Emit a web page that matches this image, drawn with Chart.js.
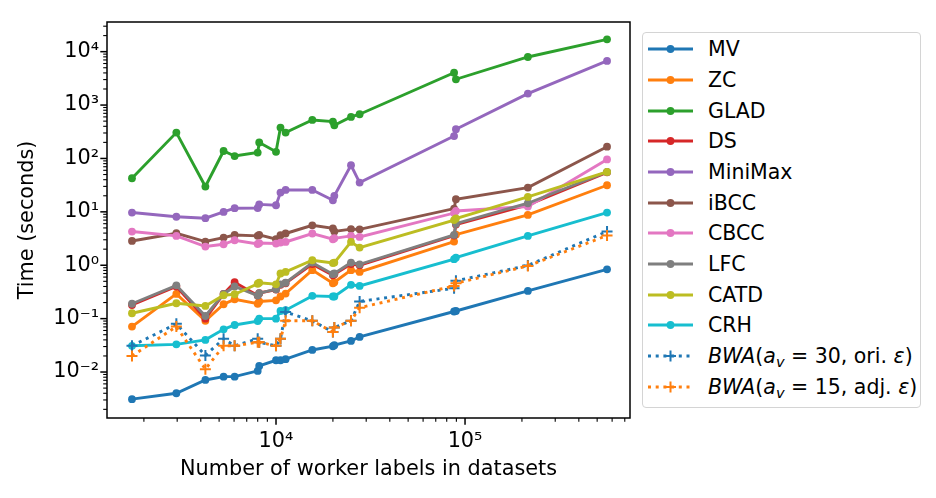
<!DOCTYPE html>
<html>
<head>
<meta charset="utf-8">
<title>Time vs. worker labels</title>
<script src="https://cdn.jsdelivr.net/npm/chart.js@4.4.0/dist/chart.umd.min.js"></script>
<style>
  body { margin: 0; background: #fff; font-family: 'DejaVu Sans', sans-serif; }
  #wrap { position: relative; width: 936px; height: 498px; }
  #legend {
    position: absolute; left: 642px; top: 32px; width: 279px; height: 376px;
    box-sizing: border-box; border: 1px solid #d4d4d4; border-radius: 4px; background: #fff;
  }
  .row { position: absolute; left: 0; height: 30px; width: 275px; display: flex; align-items: center; }
  .row svg { position: absolute; left: 5px; top: 0; }
  .row span { position: absolute; left: 65px; font-size: 20.5px; color: #000; white-space: nowrap; line-height: 30px; }
  .row i { font-style: oblique; }
  .row sub { font-size: 14.5px; vertical-align: -4px; line-height: 0; }
</style>
</head>
<body>
<div id="wrap">
  <canvas id="chart" width="936" height="498"></canvas>
  <div id="legend"></div>
</div>
<script>
// x: number of worker labels per dataset
const xValues = [1730, 2970, 4230, 5280, 6040, 8000, 8150, 10000, 10560, 11240,
                 15560, 20000, 20350, 24930, 27690, 87500, 89500, 215000, 564000];

// running time (seconds) per method
const mv      = [0.0031, 0.0040, 0.0071, 0.0082, 0.0082, 0.0105, 0.013, 0.0166, 0.0166, 0.0174,
                 0.0259, 0.0304, 0.0318, 0.0382, 0.0454, 0.136, 0.139, 0.33, 0.84];
const zc      = [0.071, 0.29, 0.091, 0.186, 0.23, 0.19, 0.21, 0.22, 0.26, 0.295,
                 0.81, 0.46, 0.48, 0.81, 0.75, 2.78, 3.75, 8.75, 31.5];
const glad    = [42.6, 305, 29.8, 138, 111, 129, 199, 133, 379, 305,
                 526, 491, 418, 599, 673, 4050, 3040, 7950, 17000];
const ds      = [0.18, 0.40, 0.10, 0.29, 0.48, 0.27, 0.30, 0.35, 0.43, 0.46,
                 1.05, 0.65, 0.68, 1.05, 1.0, 3.6, 5.8, 13.5, 55];
const minimax = [9.7, 8.1, 7.6, 9.95, 11.7, 11.8, 13.8, 13.3, 23, 25.7,
                 25.7, 16.5, 20, 74.6, 35.4, 263, 352, 1640, 6700];
const ibcc    = [2.85, 3.97, 2.78, 3.3, 3.69, 3.55, 3.7, 3.07, 3.65, 3.93,
                 5.6, 4.9, 4.3, 4.75, 4.7, 11.5, 17.2, 28.5, 166];
const cbcc    = [4.28, 3.54, 2.24, 2.47, 2.94, 2.5, 2.6, 2.55, 2.66, 2.73,
                 3.93, 3.07, 3.2, 3.54, 3.39, 9.5, 10.4, 12.6, 96];
const lfc     = [0.19, 0.42, 0.112, 0.29, 0.40, 0.27, 0.30, 0.355, 0.44, 0.47,
                 1.12, 0.68, 0.70, 1.12, 1.04, 3.7, 6.0, 14.5, 56];
const catd    = [0.126, 0.194, 0.173, 0.274, 0.286, 0.45, 0.47, 0.44, 0.70, 0.75,
                 1.24, 1.1, 1.12, 2.73, 2.14, 7.0, 7.5, 19, 56];
const crh     = [0.031, 0.033, 0.040, 0.063, 0.076, 0.09, 0.1, 0.10, 0.139, 0.144,
                 0.267, 0.26, 0.26, 0.43, 0.41, 1.3, 1.39, 3.54, 9.7];
const bwa30   = [0.031, 0.080, 0.0205, 0.042, 0.031, 0.042, 0.036, 0.031, 0.042, 0.133,
                 0.091, 0.056, 0.068, 0.091, 0.21, 0.37, 0.51, 0.99, 4.3];
const bwa15   = [0.020, 0.071, 0.0113, 0.031, 0.031, 0.036, 0.036, 0.031, 0.042, 0.091,
                 0.091, 0.056, 0.068, 0.091, 0.16, 0.41, 0.46, 0.97, 3.6];

const xMajor = [1e4, 1e5];
const yMajor = [1e-2, 1e-1, 1e0, 1e1, 1e2, 1e3, 1e4];

const series = [
  { name: 'MV',      html: 'MV',      data: mv,      color: '#1f77b4' },
  { name: 'ZC',      html: 'ZC',      data: zc,      color: '#ff7f0e' },
  { name: 'GLAD',    html: 'GLAD',    data: glad,    color: '#2ca02c' },
  { name: 'DS',      html: 'DS',      data: ds,      color: '#d62728' },
  { name: 'MiniMax', html: 'MiniMax', data: minimax, color: '#9467bd' },
  { name: 'iBCC',    html: 'iBCC',    data: ibcc,    color: '#8c564b' },
  { name: 'CBCC',    html: 'CBCC',    data: cbcc,    color: '#e377c2' },
  { name: 'LFC',     html: 'LFC',     data: lfc,     color: '#7f7f7f' },
  { name: 'CATD',    html: 'CATD',    data: catd,    color: '#bcbd22' },
  { name: 'CRH',     html: 'CRH',     data: crh,     color: '#17becf' },
  { name: 'BWA(a_v = 30, ori. ε)', html: '<i>BWA</i>(<i>a<sub>v</sub></i> = 30, ori. <i>ε</i>)', data: bwa30, color: '#1f77b4', bwa: true },
  { name: 'BWA(a_v = 15, adj. ε)', html: '<i>BWA</i>(<i>a<sub>v</sub></i> = 15, adj. <i>ε</i>)', data: bwa15, color: '#ff7f0e', bwa: true }
];

// minor ticks at 2..9 x 10^n, like matplotlib
function logTicks(lo, hi) {
  const out = [];
  for (let e = Math.floor(Math.log10(lo)); e <= Math.ceil(Math.log10(hi)); e++) {
    for (let m = 1; m < 10; m++) {
      const v = m * Math.pow(10, e);
      if (v >= lo && v <= hi) out.push(v);
    }
  }
  return out;
}

const SUP = { '-': '\u207B', '0': '\u2070', '1': '\u00B9', '2': '\u00B2', '3': '\u00B3',
              '4': '\u2074', '5': '\u2075', '6': '\u2076', '7': '\u2077', '8': '\u2078', '9': '\u2079' };
function powLabel(v, majors) {
  if (!majors.some(m => Math.abs(m - v) / m < 1e-9)) return '';
  const e = Math.round(Math.log10(v));
  return '10' + String(e).split('').map(c => SUP[c]).join('');
}
const isMajor = v => Math.abs(Math.log10(v) - Math.round(Math.log10(v))) < 1e-9;

const X_MIN = 1276, X_MAX = 746000, Y_MIN = 0.001377, Y_MAX = 35950;

const datasets = series.map((s, i) => ({
  label: s.name,
  data: xValues.map((x, j) => ({ x: x, y: s.data[j] })),
  borderColor: s.color,
  backgroundColor: s.color,
  borderWidth: 2.9,
  borderDash: s.bwa ? [3, 4.7] : [],
  borderCapStyle: 'butt',
  tension: 0,
  pointStyle: s.bwa ? 'cross' : 'circle',
  pointRadius: s.bwa ? 5.5 : 3.9,
  pointBorderWidth: s.bwa ? 2 : 0,
  pointBorderColor: s.color,
  pointBackgroundColor: s.color,
  order: series.length - i   // later series drawn on top, like matplotlib
}));

// black frame + outward tick marks
const frameTicks = {
  id: 'frameTicks',
  afterDraw(chart) {
    const { ctx, chartArea: a, scales } = chart;
    ctx.save();
    ctx.strokeStyle = '#000';
    scales.x.ticks.forEach(t => {
      const px = scales.x.getPixelForValue(t.value);
      const maj = isMajor(t.value);
      ctx.lineWidth = maj ? 1.5 : 1.1;
      ctx.beginPath();
      ctx.moveTo(px, a.bottom);
      ctx.lineTo(px, a.bottom + (maj ? 6.7 : 3.8));
      ctx.stroke();
    });
    scales.y.ticks.forEach(t => {
      const py = scales.y.getPixelForValue(t.value);
      const maj = isMajor(t.value);
      ctx.lineWidth = maj ? 1.5 : 1.1;
      ctx.beginPath();
      ctx.moveTo(a.left, py);
      ctx.lineTo(a.left - (maj ? 6.7 : 3.8), py);
      ctx.stroke();
    });
    ctx.lineWidth = 1.5;
    ctx.strokeRect(a.left, a.top, a.right - a.left, a.bottom - a.top);
    ctx.restore();
  }
};

Chart.defaults.font.family = "'DejaVu Sans', sans-serif";
Chart.defaults.font.size = 20.8;
Chart.defaults.color = '#000';

new Chart(document.getElementById('chart'), {
  type: 'line',
  data: { datasets: datasets },
  options: {
    responsive: false,
    animation: false,
    devicePixelRatio: 1,
    layout: { padding: { left: 0, right: 306, top: 22, bottom: 0 } },
    plugins: { legend: { display: false }, tooltip: { enabled: false } },
    scales: {
      x: {
        type: 'logarithmic',
        position: 'bottom',
        min: X_MIN, max: X_MAX,
        border: { display: false },
        grid: { display: false, drawTicks: false },
        afterBuildTicks: s => { s.ticks = logTicks(X_MIN, X_MAX).map(v => ({ value: v, major: isMajor(v) })); },
        afterFit: s => { s.height = 80; },
        ticks: { autoSkip: false, maxRotation: 0, padding: 11, callback: v => powLabel(v, xMajor) },
        title: { display: true, text: 'Number of worker labels in datasets', padding: { top: 0, bottom: 16 } }
      },
      y: {
        type: 'logarithmic',
        position: 'left',
        min: Y_MIN, max: Y_MAX,
        border: { display: false },
        grid: { display: false, drawTicks: false },
        afterBuildTicks: s => { s.ticks = logTicks(Y_MIN, Y_MAX).map(v => ({ value: v, major: isMajor(v) })); },
        afterFit: s => { s.width = 107; },
        ticks: { autoSkip: false, padding: 8, callback: v => powLabel(v, yMajor) },
        title: { display: true, text: 'Time (seconds)', padding: { top: 15, bottom: 0 } }
      }
    }
  },
  plugins: [frameTicks]
});

// legend (HTML so the math labels keep italics and subscripts)
const legend = document.getElementById('legend');
series.forEach((s, i) => {
  const cy = 49.3 + i * 30.67;            // row centre in page coords
  const row = document.createElement('div');
  row.className = 'row';
  row.style.top = (cy - 32 - 1 - 15) + 'px';
  const dash = s.bwa ? ' stroke-dasharray="3 4.7"' : '';
  const marker = s.bwa
    ? `<path d="M17 15 H28 M22.5 9.5 V20.5" stroke="${s.color}" stroke-width="2"/>`
    : `<circle cx="22.5" cy="15" r="3.9" fill="${s.color}"/>`;
  row.innerHTML =
    `<svg width="46" height="30"><line x1="0" y1="15" x2="45" y2="15" stroke="${s.color}" stroke-width="2.9"${dash}/>${marker}</svg>` +
    `<span>${s.html}</span>`;
  legend.appendChild(row);
});
</script>
</body>
</html>
